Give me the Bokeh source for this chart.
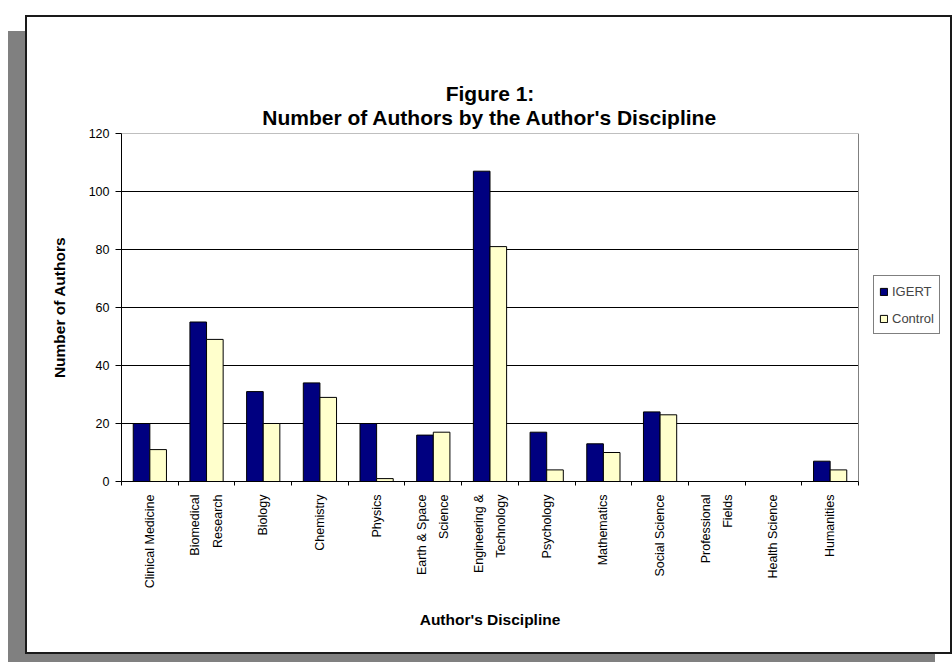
import numpy as np
from bokeh.plotting import figure
from bokeh.models import (ColumnDataSource, Range1d, FixedTicker, Legend, LegendItem,
                          Title, LinearAxis)
from bokeh.transform import dodge
from bokeh.embed import file_html
from bokeh.resources import INLINE
import math

# ---- data ----
categories = ["Clinical Medicine", "Biomedical\nResearch", "Biology", "Chemistry", "Physics",
              "Earth & Space\nScience", "Engineering &\nTechnology", "Psychology", "Mathematics",
              "Social Science", "Professional\nFields", "Health Science", "Humanities"]
igert = [20, 55, 31, 34, 20, 16, 107, 17, 13, 24, 0, 0, 7]
control = [11, 49, 20, 29, 1, 17, 81, 4, 10, 23, 0, 0, 4]
series_names = ["IGERT", "Control"]
y_ticks = [0, 20, 40, 60, 80, 100, 120]
title_line1 = "Figure 1:"
title_line2 = "Number of Authors by the Author's Discipline"
x_title = "Author's Discipline"
y_title = "Number of Authors"

FONT = "Liberation Sans"
n = len(categories)
y_max = y_ticks[-1]
centers = [i + 0.5 for i in range(n)]
bounds = [float(i) for i in range(n + 1)]
bw = 0.293

# ---- layout (pixels) ----
W, H = 927, 639
b_left, b_top, b_bottom = 96, 118, 173
plot_w = 737                     # width of the category plot area
frame_w = W - b_left             # frame extends to the right edge (room for legend)
x_end = n * frame_w / plot_w

src = ColumnDataSource(dict(x=centers, igert=igert, control=control))
grid_src = ColumnDataSource(dict(y=y_ticks[1:-1]))

p = figure(width=W, height=H, x_range=Range1d(0, x_end), y_range=Range1d(0, y_max),
           output_backend="svg", toolbar_location=None, title=None,
           x_axis_type=None, y_axis_type=None,
           min_border_left=b_left, min_border_right=0, min_border_top=b_top,
           min_border_bottom=b_bottom)
p.margin = (15, 0, 0, 25)
p.styles = {"box-shadow": "inset 0 0 0 2px #1a1a1a, -17px 16px 0 0 #808080",
            "background-color": "white"}
p.background_fill_color = None
p.border_fill_color = None
p.outline_line_color = None

# gridlines and plot-area border (limited to the category area)
p.segment(x0=0, x1=n, y0="y", y1="y", source=grid_src, line_color="black", line_width=1)
p.segment(x0=[0, n], x1=[n, n], y0=[y_max, 0], y1=[y_max, y_max],
          line_color="#808080", line_width=1)

# axes
yaxis = LinearAxis(ticker=FixedTicker(ticks=y_ticks), axis_label=y_title)
yaxis.axis_line_color = "black"
yaxis.major_tick_line_color = "black"
yaxis.major_tick_out = 6
yaxis.major_tick_in = 0
yaxis.minor_tick_line_color = None
yaxis.major_label_text_font = FONT
yaxis.major_label_text_font_size = "12.5px"
yaxis.major_label_text_color = "black"
yaxis.major_label_standoff = 6
yaxis.axis_label_text_font = FONT
yaxis.axis_label_text_font_size = "15.5px"
yaxis.axis_label_text_font_style = "bold"
yaxis.axis_label_text_color = "black"
yaxis.axis_label_standoff = 18
p.add_layout(yaxis, "left")

xaxis = LinearAxis(ticker=FixedTicker(ticks=centers, minor_ticks=bounds))
xaxis.bounds = (0, n)
xaxis.major_label_overrides = {c: lab for c, lab in zip(centers, categories)}
xaxis.axis_line_color = "black"
xaxis.major_tick_line_color = None
xaxis.major_tick_out = 0
xaxis.major_tick_in = 0
xaxis.minor_tick_line_color = "black"
xaxis.minor_tick_out = 4
xaxis.minor_tick_in = 0
xaxis.major_label_orientation = math.pi / 2
xaxis.major_label_text_font = FONT
xaxis.major_label_text_font_size = "12.5px"
xaxis.major_label_text_line_height = 1.6
xaxis.major_label_text_color = "black"
xaxis.major_label_standoff = 9
p.add_layout(xaxis, "below")

r1 = p.vbar(x=dodge("x", -bw / 2), top="igert", bottom=0, width=bw, source=src,
            fill_color="#000080", line_color="black", line_width=1)
r2 = p.vbar(x=dodge("x", bw / 2), top="control", bottom=0, width=bw, source=src,
            fill_color="#FFFFCC", line_color="black", line_width=1)

legend = Legend(items=[LegendItem(label=series_names[0], renderers=[r1]),
                       LegendItem(label=series_names[1], renderers=[r2])],
                location=(752, 147))
legend.border_line_color = "black"
legend.border_line_width = 1
legend.background_fill_color = "white"
legend.background_fill_alpha = 1
legend.glyph_width = 9
legend.glyph_height = 9
legend.label_text_font = FONT
legend.label_text_font_size = "13px"
legend.label_height = 20
legend.label_standoff = 4
legend.padding = 5
legend.spacing = 7
legend.margin = 0
p.add_layout(legend)

# titles, centred over the category area (Liberation Sans Bold advance widths in em)
TS = 21
AS = 15.5
title_center = plot_w / 2
w2 = 21.685 * TS
w1 = 4.223 * TS
wx = 9.073 * AS
t2 = Title(text=title_line2, align="left", offset=title_center - w2 / 2, text_font=FONT,
           text_font_size=f"{TS}px", text_font_style="bold", text_color="black", standoff=9)
t1 = Title(text=title_line1, align="left", offset=title_center - w1 / 2, text_font=FONT,
           text_font_size=f"{TS}px", text_font_style="bold", text_color="black", standoff=-11)
p.add_layout(t2, "above")
p.add_layout(t1, "above")

tx = Title(text=x_title, align="left", offset=title_center - wx / 2, text_font=FONT,
           text_font_size=f"{AS}px", text_font_style="bold", text_color="black", standoff=34)
p.add_layout(tx, "below")

open("out.html", "w").write(file_html(p, INLINE))
